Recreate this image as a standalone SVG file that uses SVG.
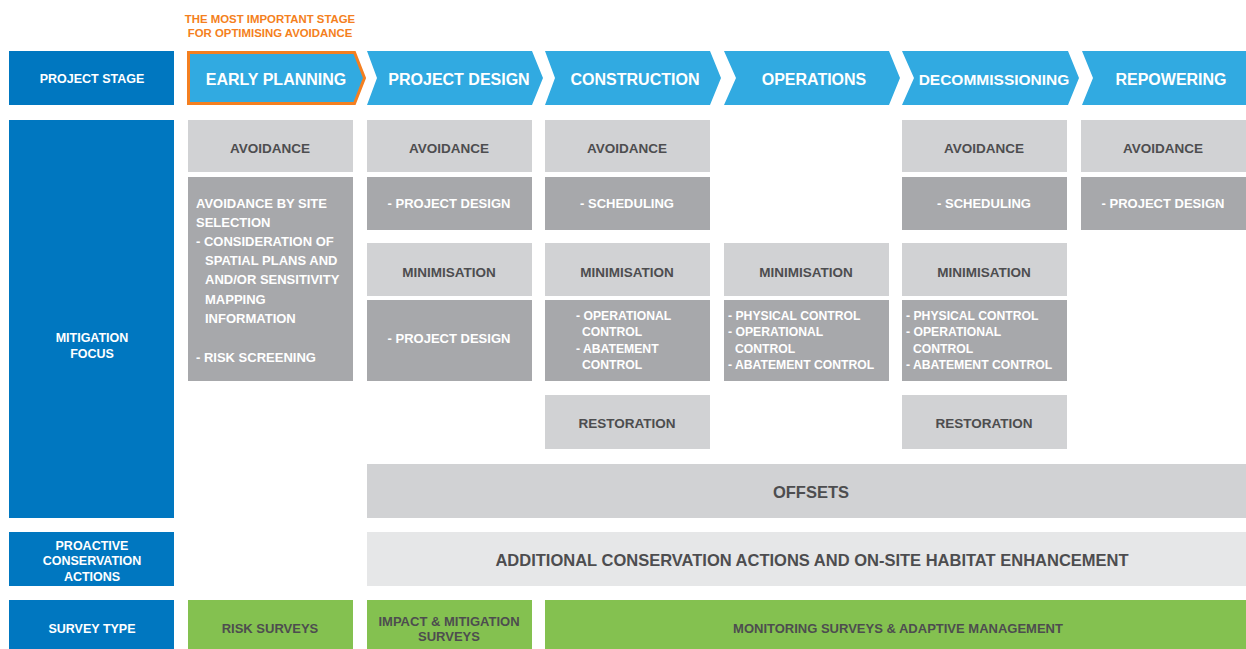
<svg xmlns="http://www.w3.org/2000/svg" width="1246" height="649" viewBox="0 0 1246 649">
<style>
text{font-family:"Liberation Sans",Arial,sans-serif;font-weight:bold;}
.lab{fill:#0077c0;}
.lt{fill:#ffffff;font-size:12.5px;text-anchor:middle;}
.chev{fill:#31aae1;}
.ct{fill:#ffffff;font-size:16px;text-anchor:middle;}
.lg{fill:#d1d2d4;}
.dg{fill:#a7a8ab;}
.xl{fill:#e6e7e8;}
.gr{fill:#84c150;}
.dt{fill:#4d4d4f;font-size:13.5px;text-anchor:middle;}
.st{fill:#4d4d4f;font-size:13px;text-anchor:middle;}
.wt{fill:#ffffff;font-size:13px;text-anchor:middle;}
.wl{fill:#ffffff;font-size:13px;}
.ws{fill:#ffffff;font-size:12.2px;}
.big{fill:#4d4d4f;font-size:16.5px;text-anchor:middle;}
.or{fill:#f47f20;font-size:11.4px;text-anchor:middle;}
</style>
<rect width="1246" height="649" fill="#ffffff"/>

<g id="note-important">
<text class="or" x="270" y="23">THE MOST IMPORTANT STAGE</text>
<text class="or" x="270" y="37">FOR OPTIMISING AVOIDANCE</text>
</g>

<g id="label-project-stage"><rect class="lab" x="9" y="51" width="165" height="54"/><text class="lt" x="92" y="83">PROJECT STAGE</text></g>
<g id="label-mitigation-focus"><rect class="lab" x="9" y="120" width="165" height="398"/><text class="lt" x="92" y="341.5">MITIGATION</text><text class="lt" x="92" y="357.5">FOCUS</text></g>
<g id="label-proactive"><rect class="lab" x="9" y="532" width="165" height="54"/><text class="lt" x="92" y="549.5">PROACTIVE</text><text class="lt" x="92" y="564.5">CONSERVATION</text><text class="lt" x="92" y="580.5">ACTIONS</text></g>
<g id="label-survey-type"><rect class="lab" x="9" y="600" width="165" height="49"/><text class="lt" x="92" y="632.5">SURVEY TYPE</text></g>

<g id="stage-early-planning"><polygon class="chev" points="188.5,52.5 354.5,52.5 364.5,78 354.5,103.5 188.5,103.5" stroke="#f47f20" stroke-width="3"/><text class="ct" x="276" y="84.8">EARLY PLANNING</text></g>
<g id="stage-project-design"><polygon class="chev" points="367,51 532,51 543,78 532,105 367,105 377,78"/><text class="ct" x="459" y="84.8">PROJECT DESIGN</text></g>
<g id="stage-construction"><polygon class="chev" points="545,51 710,51 721,78 710,105 545,105 555,78"/><text class="ct" x="635" y="84.8">CONSTRUCTION</text></g>
<g id="stage-operations"><polygon class="chev" points="724,51 889,51 900,78 889,105 724,105 736,78"/><text class="ct" x="814" y="84.8">OPERATIONS</text></g>
<g id="stage-decommissioning"><polygon class="chev" points="902,51 1068,51 1079,78 1068,105 902,105 914,78"/><text class="ct" x="994" y="84.8" style="font-size:15.5px">DECOMMISSIONING</text></g>
<g id="stage-repowering"><polygon class="chev" points="1082,51 1246,51 1246,105 1082,105 1093,78"/><text class="ct" x="1171" y="84.8">REPOWERING</text></g>

<g id="ep-avoidance"><rect class="lg" x="188" y="120" width="165" height="52"/><text class="dt" x="270" y="152.8">AVOIDANCE</text></g>
<g id="ep-details"><rect class="dg" x="188" y="177" width="165" height="204"/>
<text class="wl" x="196" y="207.7">AVOIDANCE BY SITE</text>
<text class="wl" x="196" y="226.7">SELECTION</text>
<text class="wl" x="196" y="245.7">- CONSIDERATION OF</text>
<text class="wl" x="205" y="264.7">SPATIAL PLANS AND</text>
<text class="wl" x="205" y="283.7">AND/OR SENSITIVITY</text>
<text class="wl" x="205" y="303.7">MAPPING</text>
<text class="wl" x="205" y="322.7">INFORMATION</text>
<text class="wl" x="196" y="361.7">- RISK SCREENING</text>
</g>

<g id="pd-avoidance"><rect class="lg" x="367" y="120" width="165" height="52"/><text class="dt" x="449" y="152.8">AVOIDANCE</text></g>
<g id="pd-avoid-design"><rect class="dg" x="367" y="177" width="165" height="53"/><text class="wt" x="449" y="207.7">- PROJECT DESIGN</text></g>
<g id="pd-minimisation"><rect class="lg" x="367" y="243" width="165" height="53"/><text class="dt" x="449" y="276.9">MINIMISATION</text></g>
<g id="pd-min-design"><rect class="dg" x="367" y="300" width="165" height="81"/><text class="wt" x="449" y="342.7">- PROJECT DESIGN</text></g>

<g id="co-avoidance"><rect class="lg" x="545" y="120" width="165" height="52"/><text class="dt" x="627" y="152.8">AVOIDANCE</text></g>
<g id="co-scheduling"><rect class="dg" x="545" y="177" width="165" height="53"/><text class="wt" x="627" y="207.7">- SCHEDULING</text></g>
<g id="co-minimisation"><rect class="lg" x="545" y="243" width="165" height="53"/><text class="dt" x="627" y="276.9">MINIMISATION</text></g>
<g id="co-controls"><rect class="dg" x="545" y="300" width="165" height="81"/>
<text class="ws" x="576" y="320.4">- OPERATIONAL</text>
<text class="ws" x="582" y="336.4">CONTROL</text>
<text class="ws" x="576" y="353.4">- ABATEMENT</text>
<text class="ws" x="582" y="369.4">CONTROL</text>
</g>
<g id="co-restoration"><rect class="lg" x="545" y="395" width="165" height="54"/><text class="dt" x="627" y="427.9">RESTORATION</text></g>

<g id="op-minimisation"><rect class="lg" x="724" y="243" width="165" height="53"/><text class="dt" x="806" y="276.9">MINIMISATION</text></g>
<g id="op-controls"><rect class="dg" x="724" y="300" width="165" height="81"/>
<text class="ws" x="728" y="320.4">- PHYSICAL CONTROL</text>
<text class="ws" x="728" y="336.4">- OPERATIONAL</text>
<text class="ws" x="735" y="353.4">CONTROL</text>
<text class="ws" x="728" y="369.4">- ABATEMENT CONTROL</text>
</g>

<g id="de-avoidance"><rect class="lg" x="902" y="120" width="165" height="52"/><text class="dt" x="984" y="152.8">AVOIDANCE</text></g>
<g id="de-scheduling"><rect class="dg" x="902" y="177" width="165" height="53"/><text class="wt" x="984" y="207.7">- SCHEDULING</text></g>
<g id="de-minimisation"><rect class="lg" x="902" y="243" width="165" height="53"/><text class="dt" x="984" y="276.9">MINIMISATION</text></g>
<g id="de-controls"><rect class="dg" x="902" y="300" width="165" height="81"/>
<text class="ws" x="906" y="320.4">- PHYSICAL CONTROL</text>
<text class="ws" x="906" y="336.4">- OPERATIONAL</text>
<text class="ws" x="913" y="353.4">CONTROL</text>
<text class="ws" x="906" y="369.4">- ABATEMENT CONTROL</text>
</g>
<g id="de-restoration"><rect class="lg" x="902" y="395" width="165" height="54"/><text class="dt" x="984" y="427.9">RESTORATION</text></g>

<g id="re-avoidance"><rect class="lg" x="1081" y="120" width="165" height="52"/><text class="dt" x="1163" y="152.8">AVOIDANCE</text></g>
<g id="re-design"><rect class="dg" x="1081" y="177" width="165" height="53"/><text class="wt" x="1163" y="207.7">- PROJECT DESIGN</text></g>

<g id="offsets"><rect class="lg" x="367" y="464" width="879" height="54"/><text class="big" x="811" y="498">OFFSETS</text></g>
<g id="additional-actions"><rect class="xl" x="367" y="532" width="879" height="54"/><text class="big" x="812" y="566">ADDITIONAL CONSERVATION ACTIONS AND ON-SITE HABITAT ENHANCEMENT</text></g>

<g id="survey-risk"><rect class="gr" x="188" y="600" width="165" height="49"/><text class="st" x="270" y="632.7">RISK SURVEYS</text></g>
<g id="survey-impact"><rect class="gr" x="367" y="600" width="165" height="49"/><text class="st" x="449" y="625.7">IMPACT &amp; MITIGATION</text><text class="st" x="449" y="640.7">SURVEYS</text></g>
<g id="survey-monitoring"><rect class="gr" x="545" y="600" width="701" height="49"/><text class="st" x="898" y="632.7">MONITORING SURVEYS &amp; ADAPTIVE MANAGEMENT</text></g>

<g id="connectors"></g>
</svg>
